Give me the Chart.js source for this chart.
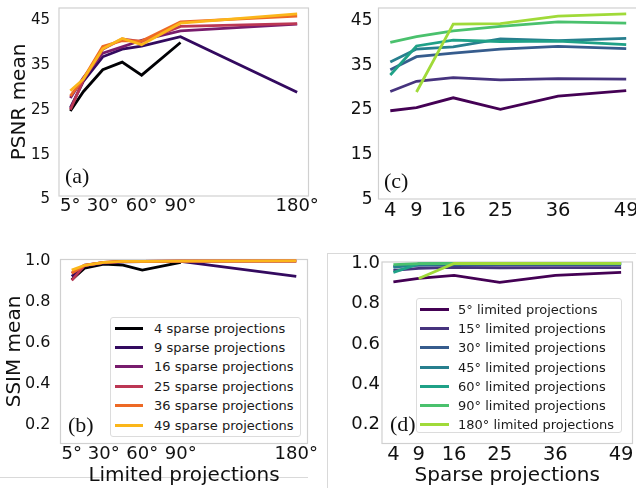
<!DOCTYPE html>
<html lang="en">
<head>
<meta charset="UTF-8" />
<script src="https://cdn.jsdelivr.net/npm/chart.js@4.4.1/dist/chart.umd.min.js"></script>
<style>
  body { margin: 0; width: 636px; height: 488px; overflow: hidden; background: #fff; position: relative; font-family: "DejaVu Sans", sans-serif; }
  .panel { position: absolute; }
  .tag { position: absolute; font-family: "Liberation Serif", "DejaVu Serif", serif; font-size: 22px; line-height: 22px; color: #111; }
  .legend { position: absolute; background: #fff; border: 1px solid #dcdcdc; border-radius: 3px; font-size: 13px; color: #1a1a1a; box-sizing: border-box; }
  .legend .row { position: absolute; height: 19px; line-height: 19px; white-space: nowrap; }
  .legend .swatch { position: absolute; height: 3px; }
  .rule { position: absolute; border: 1px solid #d9d9d9; }
</style>
</head>
<body>
  <div class="rule" style="left:327px; top:253px; width:400px; height:300px;"></div>
  <div class="rule" style="left:-2px; top:477px; width:310px; height:0; border-width:1px 0 0 0;"></div>

  <div class="panel" style="left:0; top:0;"><canvas id="pa" width="320" height="240"></canvas></div>
  <div class="panel" style="left:0; top:240px;"><canvas id="pb" width="320" height="248"></canvas></div>
  <div class="panel" style="left:320px; top:0;"><canvas id="pc" width="330" height="240"></canvas></div>
  <div class="panel" style="left:320px; top:240px;"><canvas id="pd" width="330" height="248"></canvas></div>

  <div class="legend" id="legB" style="left:110px; top:317px; width:191px; height:120px;"></div>
  <div class="legend" id="legD" style="left:416px; top:298px; width:206px; height:135px;"></div>

  <div class="tag" style="left:65px; top:165px;">(a)</div>
  <div class="tag" style="left:68px; top:414px;">(b)</div>
  <div class="tag" style="left:384px; top:170px;">(c)</div>
  <div class="tag" style="left:390px; top:413px;">(d)</div>

<script>
// x values
const sparseCounts = [4, 9, 16, 25, 36, 49];
const limitedAngles = [5, 15, 30, 45, 60, 90, 180];

// PSNR mean, one row per limited angle, columns follow sparseCounts
const psnr5 = [24.8, 25.5, 27.7, 25.1, 28.1, 29.3];
const psnr15 = [29.1, 31.4, 32.2, 31.7, 32.0, 31.9];
const psnr30 = [34.0, 36.9, 37.7, 38.6, 39.2, 38.7];
const psnr45 = [35.7, 38.6, 39.1, 40.9, 40.5, 41.0];
const psnr60 = [32.8, 39.3, 40.6, 40.3, 40.4, 39.6];
const psnr90 = [40.1, 41.4, 42.7, 43.7, 44.7, 44.4];
const psnr180 = [null, 29.0, 44.2, 44.3, 46.0, 46.5];

// SSIM mean, same layout
const ssim5 = [0.908, 0.925, 0.94, 0.905, 0.94, 0.955];
const ssim15 = [0.965, 0.975, 0.98, 0.978, 0.979, 0.979];
const ssim30 = [0.985, 0.99, 0.992, 0.993, 0.993, 0.993];
const ssim45 = [0.98, 0.996, 0.997, 0.998, 0.998, 0.998];
const ssim60 = [0.955, 0.997, 0.998, 0.998, 0.998, 0.998];
const ssim90 = [0.993, 0.998, 0.999, 0.999, 0.999, 0.999];
const ssim180 = [null, 0.925, 0.999, 0.999, 1.0, 1.0];

// tick labels
const angleTicks = [5, 30, 60, 90, 180];
const sparseTicks = [4, 9, 16, 25, 36, 49];
const psnrTicks = [5, 15, 25, 35, 45];
const ssimTicks = [0.2, 0.4, 0.6, 0.8, 1.0];

const psnrRows = [psnr5, psnr15, psnr30, psnr45, psnr60, psnr90, psnr180];
const ssimRows = [ssim5, ssim15, ssim30, ssim45, ssim60, ssim90, ssim180];

// colormaps (inferno for sparse series, viridis for limited series)
const infernoColors = ["#000004", "#330a5f", "#781c6d", "#bc3754", "#ed6925", "#fbb61a"];
const viridisColors = ["#440154", "#46337e", "#365c8d", "#277f8e", "#1fa187", "#4ac16d", "#a0da39"];

const sparseLabels = sparseCounts.map((n) => n + " sparse projections");
const limitedLabels = limitedAngles.map((a) => a + "\u00b0 limited projections");

// series for the left panels: one line per sparse count across angles
function bySparse(rows) {
  return sparseCounts.map((n, j) => ({
    label: sparseLabels[j],
    color: infernoColors[j],
    values: rows.map((r) => r[j]),
  }));
}
// series for the right panels: one line per angle across sparse counts
function byLimited(rows) {
  return limitedAngles.map((a, i) => ({
    label: limitedLabels[i],
    color: viridisColors[i],
    values: rows[i],
  }));
}

const frame = {
  id: "frame",
  beforeDatasetsDraw(chart) {
    const { ctx, chartArea: a } = chart;
    ctx.save();
    ctx.strokeStyle = "#d0d0d0";
    ctx.lineWidth = 1.2;
    ctx.strokeRect(a.left, a.top, a.right - a.left, a.bottom - a.top);
    ctx.restore();
  },
};

const FONT = "'DejaVu Sans', sans-serif";

// drop the extra room chart.js keeps for overhanging tick labels
function noPad(s) {
  s.paddingTop = 0;
  s.paddingBottom = 0;
  s.paddingLeft = 0;
  s.paddingRight = 0;
}

function panel(id, o) {
  const n = o.series.length;
  return new Chart(document.getElementById(id), {
    type: "line",
    data: {
      datasets: o.series.map((s, i) => ({
        label: s.label,
        data: o.xs.map((x, j) => ({ x: x, y: s.values[j] })),
        borderColor: s.color,
        backgroundColor: s.color,
        borderWidth: 2.8,
        pointRadius: 0,
        tension: 0,
        fill: false,
        clip: false,
        order: n - i, // later series on top, like matplotlib
      })),
    },
    options: {
      responsive: false,
      animation: false,
      devicePixelRatio: 1,
      layout: { padding: { top: o.padTop, right: o.padRight, left: 0, bottom: 0 } },
      plugins: { legend: { display: false }, tooltip: { enabled: false } },
      scales: {
        x: {
          type: "linear",
          min: o.xMin,
          max: o.xMax,
          grid: { display: false, drawTicks: false },
          border: { display: false },
          afterBuildTicks: (s) => { s.ticks = o.xTicks.map((v) => ({ value: v })); },
          afterFit: (s) => { s.height = o.xHeight; noPad(s); },
          ticks: {
            autoSkip: false,
            maxRotation: 0,
            padding: 0,
            color: "#111",
            font: { family: FONT, size: o.xFont },
            callback: o.xFmt,
          },
          title: {
            display: !!o.xTitle,
            text: o.xTitle || "",
            color: "#111",
            font: { family: FONT, size: 20 },
            padding: { top: 0, bottom: 0 },
          },
        },
        y: {
          type: "linear",
          min: o.yMin,
          max: o.yMax,
          grid: { display: false, drawTicks: false },
          border: { display: false },
          afterBuildTicks: (s) => { s.ticks = o.yTicks.map((v) => ({ value: v })); },
          afterFit: (s) => { s.width = o.yWidth; noPad(s); },
          ticks: {
            padding: o.yPad,
            color: "#111",
            font: { family: FONT, size: o.yFont },
            callback: o.yFmt,
          },
          title: {
            display: !!o.yTitle,
            text: o.yTitle || "",
            color: "#111",
            font: { family: FONT, size: 20 },
            padding: { top: o.yTitlePad || 0, bottom: 0 },
          },
        },
      },
    },
    plugins: [frame],
  });
}

const deg = (v) => v + "\u00b0";
const plain = (v) => String(v);
const oneDec = (v) => v.toFixed(1);

panel("pa", {
  series: bySparse(psnrRows), xs: limitedAngles,
  xMin: -3.75, xMax: 188.75, xTicks: angleTicks, xFmt: deg, xFont: 18, xHeight: 44,
  yMin: 5.8, yMax: 47.8, yTicks: psnrTicks, yFmt: plain, yFont: 15, yWidth: 59, yPad: 9,
  yTitle: "PSNR mean", yTitlePad: 8, padTop: 8, padRight: 11.5,
});
panel("pb", {
  series: bySparse(ssimRows), xs: limitedAngles,
  xMin: -3.75, xMax: 188.75, xTicks: angleTicks, xFmt: deg, xFont: 18, xHeight: 44.5,
  xTitle: "Limited projections",
  yMin: 0.111, yMax: 1.007, yTicks: ssimTicks, yFmt: oneDec, yFont: 16, yWidth: 60.5, yPad: 10,
  yTitle: "SSIM mean", yTitlePad: 3, padTop: 19.5, padRight: 12.5,
});
panel("pc", {
  series: byLimited(psnrRows), xs: sparseCounts,
  xMin: 1.75, xMax: 51.25, xTicks: sparseTicks, xFmt: plain, xFont: 19.5, xHeight: 41,
  yMin: 5.05, yMax: 47.8, yTicks: psnrTicks, yFmt: plain, yFont: 17, yWidth: 58.5, yPad: 6,
  padTop: 8, padRight: 12,
});
panel("pd", {
  series: byLimited(ssimRows), xs: sparseCounts,
  xMin: 1.75, xMax: 51.25, xTicks: sparseTicks, xFmt: plain, xFont: 19.5, xHeight: 44.5,
  xTitle: "Sparse projections",
  yMin: 0.106, yMax: 1.0065, yTicks: ssimTicks, yFmt: oneDec, yFont: 18, yWidth: 62, yPad: 2,
  padTop: 22, padRight: 17.5,
});

// legends as html boxes
function legend(id, labels, colors, lineX, lineW, textX, firstY, step) {
  const box = document.getElementById(id);
  labels.forEach((lab, i) => {
    const cy = firstY + i * step;
    const sw = document.createElement("div");
    sw.className = "swatch";
    sw.style.left = lineX + "px";
    sw.style.width = lineW + "px";
    sw.style.top = cy - 1.5 + "px";
    sw.style.background = colors[i];
    box.appendChild(sw);
    const row = document.createElement("div");
    row.className = "row";
    row.style.left = textX + "px";
    row.style.top = cy - 9.5 + "px";
    row.textContent = lab;
    box.appendChild(row);
  });
}
legend("legB", sparseLabels, infernoColors, 4, 28, 43, 10, 19.4);
legend("legD", limitedLabels, viridisColors, 3, 29, 41, 10.5, 19.2);
</script>
</body>
</html>
